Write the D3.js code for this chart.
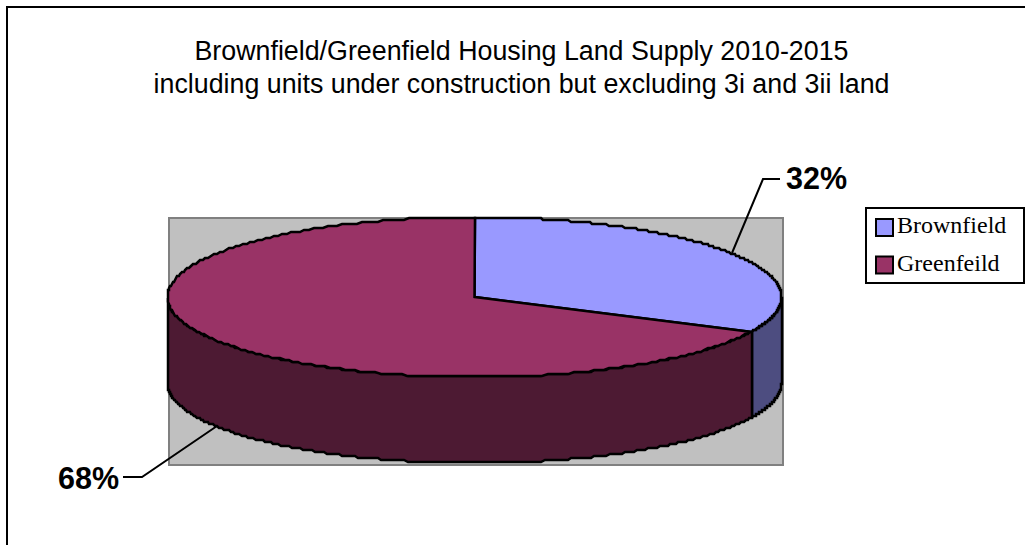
<!DOCTYPE html>
<html>
<head>
<meta charset="utf-8">
<script src="https://cdn.jsdelivr.net/npm/d3@7"></script>
<style>
  html, body { margin: 0; padding: 0; background: #fff; }
  svg { display: block; }
</style>
</head>
<body>
<div id="chart"></div>
<script>
var categories = ["Brownfield", "Greenfeild"];
var shares = [32, 68];
var titleLines = [
  "Brownfield/Greenfield Housing Land Supply 2010-2015",
  "including units under construction but excluding 3i and 3ii land"
];

var width = 1025, height = 545;
var topColors = ["#9999ff", "#993366"];
var sideColors = ["#4d4d80", "#4d1a33"];

var cx = 474.5, cy = 297, rx = 307, ry = 80, depth = 86;

var svg = d3.select("#chart").append("svg")
    .attr("width", width)
    .attr("height", height);

// chart frame, runs off the right and bottom of the picture
svg.append("rect")
    .attr("x", 7).attr("y", 7)
    .attr("width", 1040).attr("height", 600)
    .attr("fill", "#fff")
    .attr("stroke", "#000")
    .attr("stroke-width", 2);

// grey plot wall
svg.append("rect")
    .attr("x", 169).attr("y", 218)
    .attr("width", 614).attr("height", 247)
    .attr("fill", "#c0c0c0")
    .attr("stroke", "#808080")
    .attr("stroke-width", 2);

var x = d3.scaleLinear().domain([-1, 1]).range([cx - rx, cx + rx]);
var y = d3.scaleLinear().domain([-1, 1]).range([cy - ry, cy + ry]);

var pie = d3.pie().sort(null);
var slices = pie(shares);

// rim snapped to a coarse grid to get the stepped edge of the original
function rimPoints(a0, a1) {
  return d3.range(0, 241).map(function(i) {
    var a = a0 + (a1 - a0) * i / 240;
    return [Math.round(x(Math.sin(a))), Math.round(y(-Math.cos(a)) / 2) * 2];
  });
}

var line = d3.line();

// side walls, only the part of the rim facing the viewer
var sides = svg.append("g");
slices.forEach(function(s, i) {
  var a0 = Math.max(s.startAngle, Math.PI / 2);
  var a1 = Math.min(s.endAngle, Math.PI * 3 / 2);
  if (a1 <= a0) return;
  var rim = rimPoints(a0, a1);
  var lower = rim.slice().reverse().map(function(p) { return [p[0], p[1] + depth]; });
  sides.append("path")
      .attr("d", line(rim.concat(lower)) + "Z")
      .attr("fill", sideColors[i])
      .attr("stroke", "#000")
      .attr("stroke-width", 2.5);
});

// top face
var tops = svg.append("g");
slices.forEach(function(s, i) {
  var rim = rimPoints(s.startAngle, s.endAngle);
  tops.append("path")
      .attr("d", line([[x(0), y(0)]].concat(rim)) + "Z")
      .attr("fill", topColors[i])
      .attr("stroke", "#000")
      .attr("stroke-width", 2.5);
});

// leader lines
var leaders = [
  [[732, 253], [763, 179], [780, 179]],
  [[217, 426], [142, 477], [123, 477]]
];
svg.selectAll(".leader")
  .data(leaders)
  .enter().append("path")
    .attr("class", "leader")
    .attr("d", line)
    .attr("fill", "none")
    .attr("stroke", "#000")
    .attr("stroke-width", 2);

svg.selectAll(".pct")
  .data(shares)
  .enter().append("text")
    .attr("class", "pct")
    .attr("x", function(d, i) { return i == 0 ? 786 : 58; })
    .attr("y", function(d, i) { return i == 0 ? 189 : 489; })
    .attr("font-family", "Liberation Sans, Arial, sans-serif")
    .attr("font-size", 30.5)
    .attr("font-weight", "bold")
    .attr("fill", "#000")
    .text(function(d) { return d + "%"; });

svg.selectAll(".title")
  .data(titleLines)
  .enter().append("text")
    .attr("class", "title")
    .attr("x", 521.5)
    .attr("y", function(d, i) { return 60 + i * 33; })
    .attr("text-anchor", "middle")
    .attr("font-family", "Liberation Sans, Arial, sans-serif")
    .attr("font-size", 26.8)
    .attr("fill", "#000")
    .text(function(d) { return d; });

// legend
var legend = svg.append("g");
legend.append("rect")
    .attr("x", 866).attr("y", 208)
    .attr("width", 158).attr("height", 75)
    .attr("fill", "#fff")
    .attr("stroke", "#000")
    .attr("stroke-width", 2);

var legendRow = legend.selectAll("g")
  .data(categories)
  .enter().append("g")
    .attr("transform", function(d, i) { return "translate(876," + (219 + i * 37.5) + ")"; });

legendRow.append("rect")
    .attr("width", 17).attr("height", 17)
    .attr("fill", function(d, i) { return topColors[i]; })
    .attr("stroke", "#000")
    .attr("stroke-width", 2);

legendRow.append("text")
    .attr("x", 21)
    .attr("y", 14)
    .attr("font-family", "Liberation Serif, Times New Roman, serif")
    .attr("font-size", 24)
    .attr("fill", "#000")
    .text(function(d) { return d; });
</script>
</body>
</html>
